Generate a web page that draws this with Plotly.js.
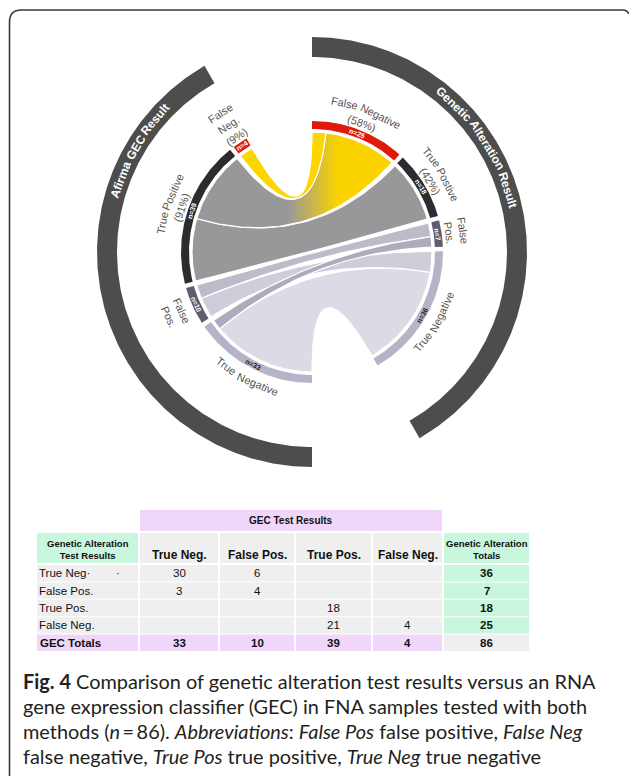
<!DOCTYPE html>
<html><head><meta charset="utf-8">
<script src="https://cdn.plot.ly/plotly-3.0.1.min.js"></script>
<style>html,body{margin:0;padding:0;background:#fff}#chart{width:629px;height:776px}</style>
</head><body><div id="chart"></div>
<script>
// ================= DATA =================
// Table rows = genetic alteration (GA) result, columns = GEC result
const gecCategories = ['True Neg.', 'False Pos.', 'True Pos.', 'False Neg.'];
const gaCategories  = ['True Neg·\u00a0\u00a0\u00a0\u00a0\u00a0\u00a0\u00a0\u00a0·', 'False Pos.', 'True Pos.', 'False Neg.'];
const countsTN = [30, 6, 0, 0];   // GA True Neg row, by GEC column
const countsFP = [3, 4, 0, 0];    // GA False Pos row
const countsTP = [0, 0, 18, 0];   // GA True Pos row
const countsFN = [0, 0, 21, 4];   // GA False Neg row
const gaTotals  = [36, 7, 18, 25];
const gecTotals = [33, 10, 39, 4];
const grandTotal = 86;
const gecTotalsLabel = 'GEC Totals';
const tableBandTitle = 'GEC Test Results';
const tableRowHeader = 'Genetic Alteration<br>Test Results';
const tableTotHeader = 'Genetic Alteration<br>Totals';
// chord labels (index: 0 TN, 1 FP, 2 TP, 3 FN)
const gaArcNames  = ['True Negative', 'False Pos.', 'True Postive', 'False Negative'];
const gecArcNames = ['True Negative', 'False Pos.', 'True Positive', 'False Neg.'];
const gaGroupTitle  = 'Genetic Alteration Result';
const gecGroupTitle = 'Afirma GEC Result';
const captionLines = [
  '<b>Fig. 4</b> Comparison of genetic alteration test results versus an RNA',
  'gene expression classifier (GEC) in FNA samples tested with both',
  'methods (<i>n</i>\u2009=\u200986). <i>Abbreviations</i>: <i>False Pos</i> false positive, <i>False Neg</i>',
  'false negative, <i>True Pos</i> true positive, <i>True Neg</i> true negative'
];

// ================= STYLE / LAYOUT =================
const M = [countsTN, countsFP, countsTP, countsFN];
const CX = 312, CY = 252;
const R_IN1 = 123, R_IN2 = 131, R_RIB = 120, R_OUT1 = 195, R_OUT2 = 215;
const GAP = 2, SPAN = 150, GA_START = 0, GEC_START = 180;
const unit = (SPAN - 3 * GAP) / grandTotal;
const catColor = ['#b6b3c8', '#5e5c72', '#2c2b30', '#df1a0b'];
const nTextColor = ['#1a1a1a', '#ffffff', '#ffffff', '#ffffff'];
const LABEL_FONT = 'Liberation Sans, Arial, sans-serif';

const ctx = document.createElement('canvas').getContext('2d');
function textW(s, size, bold, fam) { ctx.font = (bold ? 'bold ' : '') + size + 'px ' + fam; return ctx.measureText(s).width; }
function pt(r, deg) { const a = deg * Math.PI / 180; return [CX + r * Math.sin(a), CY - r * Math.cos(a)]; }
function norm(t) { return ((t % 360) + 360) % 360; }
function isTop(t) { t = norm(t); return t < 90 || t > 270; }
function rot(t) { t = norm(t); if (t < 90) return t; if (t > 270) return t - 360; return t - 180; }
function arcPts(r, a0, a1) { const n = Math.max(2, Math.ceil(Math.abs(a1 - a0) / 0.5) + 1); const p = []; for (let i = 0; i < n; i++) p.push(pt(r, a0 + (a1 - a0) * i / (n - 1))); return p; }
function bez(p0, p2) { const p = []; const n = 50; for (let i = 0; i <= n; i++) { const t = i / n, u = 1 - t; p.push([u*u*p0[0] + 2*u*t*CX + t*t*p2[0], u*u*p0[1] + 2*u*t*CY + t*t*p2[1]]); } return p; }
function sector(r1, r2, a0, a1) { const p = arcPts(r2, a0, a1).concat(arcPts(r1, a1, a0)); p.push(p[0]); return p; }
function ribbon(r, a0, a1, b0, b1) { const p = [].concat(arcPts(r, a0, a1), bez(pt(r, a1), pt(r, b0)), arcPts(r, b0, b1), bez(pt(r, b1), pt(r, a0))); p.push(p[0]); return p; }
function poly(p, extra) { return Object.assign({ type: 'scatter', mode: 'lines', x: p.map(q => q[0]), y: p.map(q => q[1]), fill: 'toself', line: { width: 0 }, hoverinfo: 'skip', showlegend: false }, extra); }

// ---- segment layout computed from the data ----
const gaOrder = [3, 2, 1, 0];   // clockwise from top: FN, TP, FP, TN
const gecOrder = [0, 1, 2, 3];  // clockwise from bottom: TN, FP, TP, FN
function layoutSide(order, totals, start) { let cur = start; const s = {}; order.forEach(i => { s[i] = [cur, cur + totals[i] * unit]; cur = s[i][1] + GAP; }); return s; }
const gaSeg = layoutSide(gaOrder, gaTotals, GA_START);
const gecSeg = layoutSide(gecOrder, gecTotals, GEC_START);
const gaSub = {}, gecSub = {};
gaOrder.forEach(r => { let cur = gaSeg[r][0]; gecOrder.slice().reverse().forEach(c => { const v = M[r][c]; if (v > 0) { gaSub[r + '-' + c] = [cur, cur + v * unit]; cur += v * unit; } }); });
gecOrder.forEach(c => { let cur = gecSeg[c][0]; gaOrder.slice().reverse().forEach(r => { const v = M[r][c]; if (v > 0) { gecSub[r + '-' + c] = [cur, cur + v * unit]; cur += v * unit; } }); });

const traces = [];
const annotations = [];
const shapes = [];

// outer group rings
traces.push(poly(sector(R_OUT1, R_OUT2, GA_START, GA_START + SPAN), { fillcolor: '#4d4d4d' }));
traces.push(poly(sector(R_OUT1, R_OUT2, GEC_START, GEC_START + SPAN), { fillcolor: '#4d4d4d' }));

// ribbons
const flowStyle = {
  '0-0': { fillcolor: '#dcdae5' },
  '0-1': { fillcolor: '#cfcdd9' },
  '1-1': { fillcolor: '#bdbbc9' },
  '1-0': { fillcolor: '#aeabbd' },
  '2-2': { fillcolor: '#98989a' },
  '3-2': { fillcolor: '#98989a', fillgradient: { type: 'horizontal', colorscale: [[0, '#98989a'], [1, '#fbd400']], start: 288, stop: 338 } },
  '3-3': { fillcolor: '#fcd600' }
};
Object.keys(flowStyle).forEach(k => {
  const a = gaSub[k], b = gecSub[k];
  if (!a || !b) return;
  traces.push(poly(ribbon(R_RIB, a[0], a[1], b[0], b[1]), Object.assign({ line: { color: '#ffffff', width: 1.2 } }, flowStyle[k])));
});

// segment arcs + n labels
function addSeg(seg, i, total) {
  traces.push(poly(sector(R_IN1, R_IN2, seg[0], seg[1]), { fillcolor: catColor[i] }));
  const mid = (seg[0] + seg[1]) / 2;
  const p = pt((R_IN1 + R_IN2) / 2, mid);
  annotations.push({ x: p[0], y: p[1], xref: 'x', yref: 'y', text: '<b>n=' + total + '</b>', showarrow: false, xanchor: 'center', yanchor: 'middle', textangle: rot(mid), font: { family: LABEL_FONT, size: 7, color: nTextColor[i] } });
}
gaOrder.forEach(i => addSeg(gaSeg[i], i, gaTotals[i]));
gecOrder.forEach(i => addSeg(gecSeg[i], i, gecTotals[i]));

// curved (word by word) text
function arcWords(str, r, theta, size, bold, color) {
  const top = isTop(theta);
  const words = str.split(' ');
  const sp = textW(' ', size, bold, 'Liberation Sans');
  const ws = words.map(w => textW(w, size, bold, 'Liberation Sans'));
  const total = ws.reduce((a, b) => a + b, 0) + sp * (words.length - 1);
  let off = -total / 2;
  words.forEach((w, i) => {
    const m = off + ws[i] / 2;
    const ang = theta + (top ? 1 : -1) * m / r * 180 / Math.PI;
    const p = pt(r, ang);
    annotations.push({ x: p[0], y: p[1], xref: 'x', yref: 'y', text: bold ? '<b>' + w + '</b>' : w, showarrow: false, xanchor: 'center', yanchor: 'middle', textangle: rot(ang), font: { family: LABEL_FONT, size: size, color: color } });
    off += ws[i] + sp;
  });
}
function pct(v, a, b) { return '(' + Math.round(100 * v / (a + b)) + '%)'; }
const gaLines = {
  0: [gaArcNames[0]],
  1: gaArcNames[1].split(' '),
  2: [gaArcNames[2], pct(gaTotals[2], gaTotals[2], gaTotals[3])],
  3: [gaArcNames[3], pct(gaTotals[3], gaTotals[2], gaTotals[3])]
};
const gecLines = {
  0: [gecArcNames[0]],
  1: gecArcNames[1].split(' '),
  2: [gecArcNames[2], pct(gecTotals[2], gecTotals[2], gecTotals[3])],
  3: gecArcNames[3].split(' ').concat([pct(gecTotals[3], gecTotals[2], gecTotals[3])])
};
function addLabel(seg, lines) {
  const mid = (seg[0] + seg[1]) / 2;
  const n = lines.length;
  lines.forEach((ln, k) => {
    const r = isTop(mid) ? 138 + (n - 1 - k) * 14 : 143 + k * 14;
    arcWords(ln, r, mid, 11, false, '#555555');
  });
}
gaOrder.forEach(i => addLabel(gaSeg[i], gaLines[i]));
gecOrder.forEach(i => addLabel(gecSeg[i], gecLines[i]));
arcWords(gaGroupTitle, (R_OUT1 + R_OUT2) / 2, 57.6, 12, true, '#ffffff');
arcWords(gecGroupTitle, (R_OUT1 + R_OUT2) / 2, 300.4, 12, true, '#ffffff');

// ================= TABLE =================
const colEdges = [36, 139, 219, 295, 372, 443, 530];
const BAND_Y = [510, 531], HEAD_Y = [533, 563];
const ROW0 = 565, ROW_PITCH = 17.4, ROW_H = 16.4;
const GRAY = '#efefef', GREEN = '#c9f7dd', PURPLE = '#f0d7fa';
const TFONT = 'Liberation Sans, Arial, sans-serif';
function cell(j, y0, y1, fill) { shapes.push({ type: 'rect', xref: 'x', yref: 'y', x0: colEdges[j] + 1, x1: colEdges[j + 1] - 1, y0: y0, y1: y1, fillcolor: fill, line: { width: 0 }, layer: 'below' }); }
function ctext(txt, x, y, size, anchor, bold) { annotations.push({ x: x, y: y, xref: 'x', yref: 'y', text: bold ? '<b>' + txt + '</b>' : String(txt), showarrow: false, xanchor: anchor, yanchor: 'middle', font: { family: TFONT, size: size, color: '#111111' } }); }
function cx(j) { return (colEdges[j] + colEdges[j + 1]) / 2; }
// band
shapes.push({ type: 'rect', xref: 'x', yref: 'y', x0: colEdges[1] + 1, x1: colEdges[5] - 1, y0: BAND_Y[0], y1: BAND_Y[1], fillcolor: PURPLE, line: { width: 0 }, layer: 'below' });
ctext(tableBandTitle, (colEdges[1] + colEdges[5]) / 2, (BAND_Y[0] + BAND_Y[1]) / 2, 10, 'center', true);
// header row
cell(0, HEAD_Y[0], HEAD_Y[1], GREEN); ctext(tableRowHeader, cx(0), 549, 9.5, 'center', true);
gecCategories.forEach((c, j) => { cell(j + 1, HEAD_Y[0], HEAD_Y[1], GRAY); ctext(c, cx(j + 1), 555, 12, 'center', true); });
cell(5, HEAD_Y[0], HEAD_Y[1], GREEN); ctext(tableTotHeader, cx(5), 549, 9.5, 'center', true);
// body rows
gaCategories.forEach((lab, i) => {
  const y0 = ROW0 + i * ROW_PITCH, y1 = y0 + ROW_H, ym = (y0 + y1) / 2;
  cell(0, y0, y1, GRAY); ctext(lab, colEdges[0] + 1, ym, 11.5, 'left', false);
  M[i].forEach((v, j) => { cell(j + 1, y0, y1, GRAY); if (v > 0) ctext(v, cx(j + 1), ym, 11.5, 'center', false); });
  cell(5, y0, y1, GREEN); ctext(gaTotals[i], cx(5), ym, 11.5, 'center', true);
});
{
  const i = gaCategories.length, y0 = ROW0 + i * ROW_PITCH, y1 = y0 + ROW_H, ym = (y0 + y1) / 2;
  cell(0, y0, y1, PURPLE); ctext(gecTotalsLabel, colEdges[0] + 2, ym, 11.5, 'left', true);
  gecTotals.forEach((v, j) => { cell(j + 1, y0, y1, PURPLE); ctext(v, cx(j + 1), ym, 11.5, 'center', true); });
  cell(5, y0, y1, GRAY); ctext(grandTotal, cx(5), ym, 11.5, 'center', true);
}

// ================= CAPTION =================
const plain = 'gene expression classifier (GEC) in FNA samples tested with both';
let capSize = 18;
const w18 = textW(plain, 18, false, 'Lato');
if (w18 > 50) capSize = Math.max(14, Math.min(21, 18 * 566 / w18));
const capY = [681, 706, 731, 756];
captionLines.forEach((t, k) => {
  annotations.push({ x: 21, y: capY[k], xref: 'x', yref: 'y', text: t, showarrow: false, xanchor: 'left', yanchor: 'middle', font: { family: 'Lato, sans-serif', size: capSize, color: '#231f20' } });
});

// frame
shapes.push({ type: 'path', xref: 'x', yref: 'y', path: 'M 9.5 776 L 9.5 22 Q 9.5 10 21.5 10 L 623 10 Q 627 10 629 14', line: { color: '#3a3a3a', width: 1.6 } });

const layout = {
  width: 629, height: 776, autosize: false,
  margin: { l: 0, r: 0, t: 0, b: 0, pad: 0 },
  paper_bgcolor: '#ffffff', plot_bgcolor: '#ffffff',
  font: { family: LABEL_FONT },
  xaxis: { range: [0, 629], visible: false, fixedrange: true, domain: [0, 1] },
  yaxis: { range: [776, 0], visible: false, fixedrange: true, domain: [0, 1] },
  showlegend: false,
  annotations: annotations,
  shapes: shapes
};
Plotly.newPlot('chart', traces, layout, { staticPlot: true, displayModeBar: false });
</script>
</body></html>
